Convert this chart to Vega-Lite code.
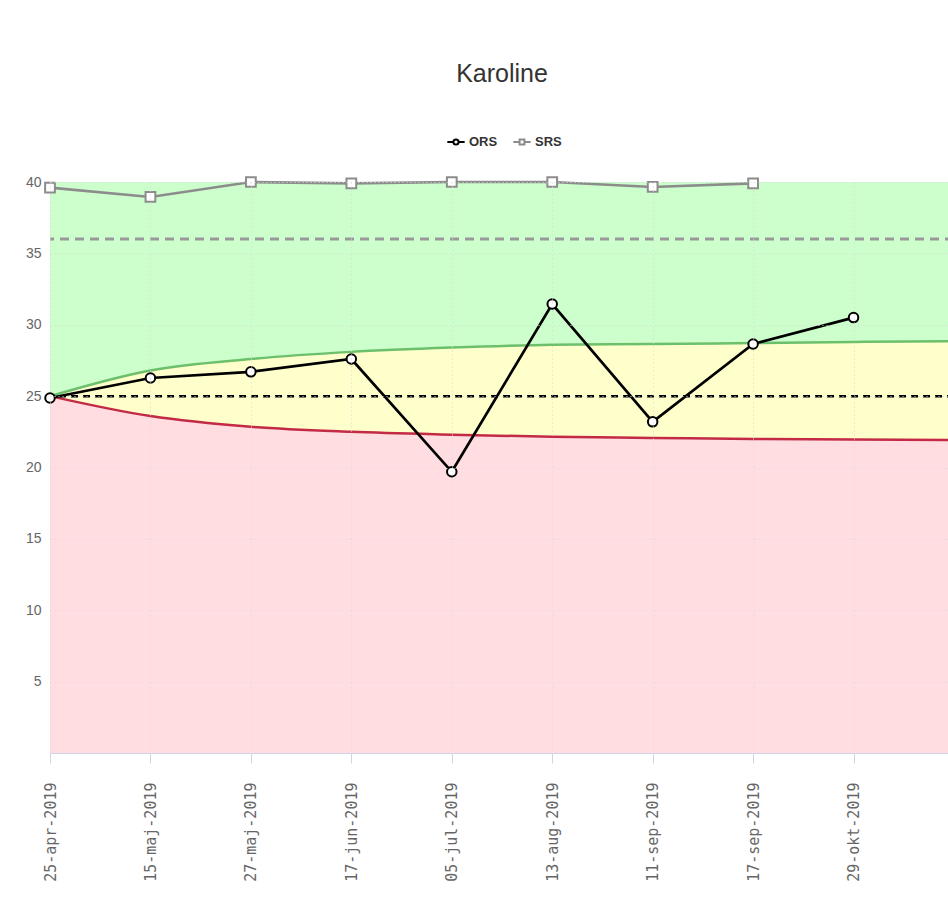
{
  "$schema": "https://vega.github.io/schema/vega-lite/v6.json",
  "autosize": "none",
  "width": 904,
  "height": 571,
  "padding": {"left": 50, "top": 182, "right": 0, "bottom": 161},
  "background": "white",
  "title": {
    "text": "Karoline",
    "font": "Liberation Sans",
    "fontSize": 25,
    "fontWeight": "normal",
    "color": "#333333",
    "anchor": "middle",
    "offset": 45
  },
  "config": {
    "view": {"stroke": null},
    "axis": {"labelFont": "Liberation Sans", "labelColor": "#666666"},
    "legend": {"labelFont": "Liberation Sans"}
  },
  "datasets": {
    "bands": [
      {"date": "25-apr-2019", "lo": 25.0, "hi": 25.0},
      {"date": "15-maj-2019", "lo": 23.6, "hi": 26.8},
      {"date": "27-maj-2019", "lo": 22.85, "hi": 27.6},
      {"date": "17-jun-2019", "lo": 22.5, "hi": 28.1},
      {"date": "05-jul-2019", "lo": 22.3, "hi": 28.4},
      {"date": "13-aug-2019", "lo": 22.15, "hi": 28.6},
      {"date": "11-sep-2019", "lo": 22.07, "hi": 28.65},
      {"date": "17-sep-2019", "lo": 22.0, "hi": 28.72},
      {"date": "29-okt-2019", "lo": 21.96, "hi": 28.8},
      {"date": " ", "lo": 21.93, "hi": 28.85}
    ],
    "scores": [
      {"date": "25-apr-2019", "series": "ORS", "value": 24.87},
      {"date": "15-maj-2019", "series": "ORS", "value": 26.27},
      {"date": "27-maj-2019", "series": "ORS", "value": 26.7},
      {"date": "17-jun-2019", "series": "ORS", "value": 27.6},
      {"date": "05-jul-2019", "series": "ORS", "value": 19.7},
      {"date": "13-aug-2019", "series": "ORS", "value": 31.45},
      {"date": "11-sep-2019", "series": "ORS", "value": 23.2},
      {"date": "17-sep-2019", "series": "ORS", "value": 28.65},
      {"date": "29-okt-2019", "series": "ORS", "value": 30.5},
      {"date": "25-apr-2019", "series": "SRS", "value": 39.6},
      {"date": "15-maj-2019", "series": "SRS", "value": 38.95},
      {"date": "27-maj-2019", "series": "SRS", "value": 40.0},
      {"date": "17-jun-2019", "series": "SRS", "value": 39.9},
      {"date": "05-jul-2019", "series": "SRS", "value": 40.0},
      {"date": "13-aug-2019", "series": "SRS", "value": 40.0},
      {"date": "11-sep-2019", "series": "SRS", "value": 39.65},
      {"date": "17-sep-2019", "series": "SRS", "value": 39.9}
    ],
    "refs": [
      {"ref": "SRS", "value": 36},
      {"ref": "ORS", "value": 25}
    ]
  },
  "encoding": {
    "x": {
      "field": "date",
      "type": "ordinal",
      "scale": {
        "type": "point",
        "padding": 0,
        "domain": ["25-apr-2019", "15-maj-2019", "27-maj-2019", "17-jun-2019", "05-jul-2019", "13-aug-2019", "11-sep-2019", "17-sep-2019", "29-okt-2019", " "]
      },
      "axis": {
        "title": null,
        "labelAngle": 270,
        "labelFont": "DejaVu Sans Mono",
        "labelFontSize": 15,
        "labelColor": "#666666",
        "labelPadding": 19,
        "tickSize": 10,
        "tickColor": "#ccd6eb",
        "domainColor": "#ccd6eb",
        "grid": true,
        "gridColor": "#d8d8d8",
        "gridDash": [1, 3],
        "zindex": 1
      }
    }
  },
  "layer": [
    {
      "data": {"name": "bands"},
      "mark": {"type": "area", "interpolate": "monotone", "color": "#ffdde0", "opacity": 1},
      "encoding": {
        "y": {"field": "lo", "type": "quantitative", "scale": {"domain": [0, 40], "nice": false, "zero": false},
          "axis": {"title": null, "values": [5, 10, 15, 20, 25, 30, 35, 40], "domain": false, "ticks": false, "labelPadding": 9, "labelFontSize": 14, "grid": true, "gridColor": "#d8d8d8", "gridDash": [1, 3], "zindex": 1}},
        "y2": {"datum": 0}
      }
    },
    {
      "data": {"name": "bands"},
      "mark": {"type": "area", "interpolate": "monotone", "color": "#ffffcc", "opacity": 1},
      "encoding": {
        "y": {"field": "lo", "type": "quantitative"},
        "y2": {"field": "hi"}
      }
    },
    {
      "data": {"name": "bands"},
      "mark": {"type": "area", "interpolate": "monotone", "color": "#ccffcc", "opacity": 1},
      "encoding": {
        "y": {"field": "hi", "type": "quantitative"},
        "y2": {"datum": 40}
      }
    },
    {
      "data": {"name": "bands"},
      "mark": {"type": "line", "interpolate": "monotone", "color": "#6cc06c", "strokeWidth": 2.5},
      "encoding": {"y": {"field": "hi", "type": "quantitative"}}
    },
    {
      "data": {"name": "bands"},
      "mark": {"type": "line", "interpolate": "monotone", "color": "#c22a45", "strokeWidth": 2.5},
      "encoding": {"y": {"field": "lo", "type": "quantitative"}}
    },
    {
      "data": {"name": "refs"},
      "transform": [{"filter": "datum.ref === 'SRS'"}],
      "mark": {"type": "rule", "strokeWidth": 3, "color": "#999999", "strokeDash": [9, 6]},
      "encoding": {"x": null, "y": {"field": "value", "type": "quantitative"}}
    },
    {
      "data": {"name": "refs"},
      "transform": [{"filter": "datum.ref === 'ORS'"}],
      "mark": {"type": "rule", "strokeWidth": 2.5, "color": "#000000", "strokeDash": [7, 5]},
      "encoding": {"x": null, "y": {"field": "value", "type": "quantitative"}}
    },
    {
      "data": {"name": "scores"},
      "mark": {"type": "line", "strokeWidth": 2.7},
      "encoding": {
        "y": {"field": "value", "type": "quantitative"},
        "stroke": {"field": "series", "type": "nominal", "scale": {"domain": ["ORS", "SRS"], "range": ["#000000", "#8c8c8c"]},
          "legend": {
            "title": null, "orient": "none", "legendX": 396, "legendY": -50, "direction": "horizontal",
            "labelFontSize": 13, "labelColor": "#333333", "labelFontWeight": "bold",
            "symbolSize": 300, "symbolStrokeWidth": 2, "symbolFillColor": "white", "columnPadding": 11, "labelOffset": 3,
            "encode": {"symbols": {"update": {"shape": {"signal": "datum.value === 'ORS' ? 'M-1,0L-0.3,0M0.3,0L1,0M-0.3,0A0.3,0.3 0 1,1 0.3,0A0.3,0.3 0 1,1 -0.3,0Z' : 'M-1,0L-0.28,0M0.28,0L1,0M-0.28,-0.3L0.28,-0.3L0.28,0.3L-0.28,0.3Z'"}, "fill": {"value": "white"}, "strokeWidth": {"value": 2}, "size": {"value": 300}}}}
          }}
      }
    },
    {
      "data": {"name": "scores"},
      "transform": [{"filter": "datum.series === 'ORS'"}],
      "mark": {"type": "point", "shape": "circle", "filled": true, "fill": "white", "stroke": "black", "strokeWidth": 2, "size": 90, "opacity": 1},
      "encoding": {"y": {"field": "value", "type": "quantitative"}}
    },
    {
      "data": {"name": "scores"},
      "transform": [{"filter": "datum.series === 'SRS'"}],
      "mark": {"type": "point", "shape": "square", "filled": true, "fill": "white", "stroke": "#8c8c8c", "strokeWidth": 2, "size": 95, "opacity": 1},
      "encoding": {"y": {"field": "value", "type": "quantitative"}}
    }
  ]
}
